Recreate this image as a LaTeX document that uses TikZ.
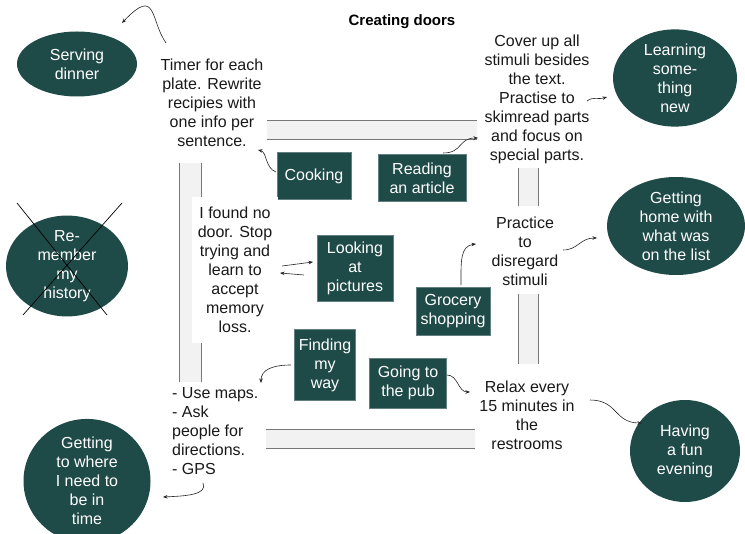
\documentclass[tikz,border=0pt]{standalone}
\usepackage{fontspec}
\setmainfont{Liberation Sans}
\usetikzlibrary{shapes.geometric,arrows.meta}
\definecolor{teal1}{RGB}{30,74,72}
\definecolor{barfill}{RGB}{242,242,242}
\definecolor{barline}{RGB}{120,120,120}
\begin{document}
\begin{tikzpicture}[x=1pt,y=-1pt,
 every node/.style={font=\fontsize{16}{19}\selectfont, align=center, inner sep=0pt},
 oval/.style={ellipse, fill=teal1, text=white},
 box/.style={rectangle, fill=teal1, text=white, draw=teal1!70!white, line width=0.4pt},
 note/.style={text=black!90},
 conn/.style={draw=black!85, line width=0.6pt, -{Stealth[length=4.5pt,width=3.5pt]}},
 barfillstyle/.style={fill=barfill},
 barside/.style={draw=barline, line width=0.7pt},
 crossline/.style={draw=black, line width=0.7pt}]
\useasboundingbox (0,0) rectangle (745,534);
\fill[white] (0,0) rectangle (745,534);

% door frames (bars)
\fill[barfillstyle] (267,120) rectangle (477,139);
\draw[barside] (267,120) -- (477,120) (267,139) -- (477,139);
\fill[barfillstyle] (179,163) rectangle (201,382);
\draw[barside] (179,163) -- (179,382) (201,163) -- (201,382);
\fill[barfillstyle] (518,168) rectangle (538,206);
\draw[barside] (518,168) -- (518,206) (538,168) -- (538,206);
\fill[barfillstyle] (518,294) rectangle (538,364);
\draw[barside] (518,294) -- (518,364) (538,294) -- (538,364);
\fill[barfillstyle] (266,429) rectangle (475,448);
\draw[barside] (266,429) -- (475,429) (266,448) -- (475,448);

% title
\node[font=\bfseries\fontsize{15}{17}\selectfont] (title) at (402,22) {Creating doors};

% goal ellipses
\node[oval, minimum width=120pt, minimum height=65pt] (serv) at (77,64) {Serving\\dinner};
\node[oval, minimum width=122pt, minimum height=98pt] (remem) at (67,266) {Re-\\member\\my\\history};
\draw[crossline] (17,203) -- (107,315);
\draw[crossline] (122,203) -- (23,315);
\node[oval, minimum width=127pt, minimum height=105pt] (getto) at (87,481) {Getting\\to where\\I need to\\be in\\time};
\node[oval, minimum width=124pt, minimum height=93pt] (learn) at (675,78) {Learning\\some-\\thing\\new};
\node[oval, minimum width=138pt, minimum height=98pt] (home) at (676,226) {Getting\\home with\\what was\\on the list};
\node[oval, minimum width=110pt, minimum height=102pt] (fun) at (685,451) {Having\\a fun\\evening};

% activity boxes
\node[box, minimum width=74pt, minimum height=47pt] (cook) at (314,176) {Cooking};
\node[box, minimum width=88pt, minimum height=47pt] (read) at (422,178) {Reading\\an article};
\node[box, minimum width=76pt, minimum height=66pt] (look) at (355,268) {Looking\\at\\pictures};
\node[box, minimum width=74pt, minimum height=48pt] (groc) at (453,311) {Grocery\\shopping};
\node[box, minimum width=61pt, minimum height=71pt] (find) at (325,365) {Finding\\my\\way};
\node[box, minimum width=77pt, minimum height=50pt] (pub) at (408,383) {Going to\\the pub};

% strategy texts
\node[note] (timer) at (212,103) {Timer for each\\plate. Rewrite\\recipies with\\one info per\\sentence.};
\node[note] (cover) at (537,99) {Cover up all\\stimuli besides\\the text.\\Practise to\\skimread parts\\and focus on\\special parts.};
\node[note, fill=white, minimum width=86pt, minimum height=146pt] (nodoor) at (235,270) {I found no\\door. Stop\\trying and\\learn to\\accept\\memory\\loss.};
\node[note] (practice) at (525,251) {Practice\\to\\disregard\\stimuli};
\node[note, anchor=west, align=left] (maps) at (172,431) {- Use maps.\\- Ask\\people for\\directions.\\- GPS};
\node[note] (relax) at (527,415) {Relax every\\15 minutes in\\the\\restrooms};

% connector end points
\coordinate (a1s) at (166,43);  \coordinate (a1e) at (122,23);
\coordinate (a2s) at (276,172); \coordinate (a2e) at (258,150);
\coordinate (a3s) at (443,153); \coordinate (a3e) at (478,138);
\coordinate (a4s) at (587,101); \coordinate (a4e) at (607,97);
\coordinate (a5s) at (461,285); \coordinate (a5e) at (476,244);
\coordinate (a6s) at (563,250); \coordinate (a6e) at (597,238);
\coordinate (a7s) at (282,266); \coordinate (a7e) at (313,262);
\coordinate (a8s) at (304,275); \coordinate (a8e) at (280,273);
\coordinate (a9s) at (291,365); \coordinate (a9e) at (261,383);
\coordinate (b1s) at (447,375); \coordinate (b1e) at (470,392);
\coordinate (b2s) at (590,400); \coordinate (b2e) at (642,423);
\coordinate (b3s) at (203,483); \coordinate (b3e) at (163,497);

\draw[conn] (a1s) .. controls (150,20) and (157,-14) .. (a1e);
\draw[conn] (a2s) .. controls (265,168) and (267,152) .. (a2e);
\draw[conn] (a3s) .. controls (463,153) and (458,138) .. (a3e);
\draw[conn] (a4s) .. controls (594,96) and (597,100) .. (a4e);
\draw[conn] (a5s) .. controls (461,262) and (460,246) .. (a5e);
\draw[conn] (a6s) .. controls (578,250) and (580,238) .. (a6e);
\draw[conn] (a7s) -- (a7e);
\draw[conn] (a8s) -- (a8e);
\draw[conn] (a9s) .. controls (272,365) and (261,370) .. (a9e);
\draw[conn] (b1s) .. controls (458,375) and (458,392) .. (b1e);
\draw[conn] (b2s) .. controls (618,400) and (614,423) .. (b2e);
\draw[conn] (b3s) .. controls (208,495) and (185,496) .. (b3e);
\end{tikzpicture}
\end{document}
